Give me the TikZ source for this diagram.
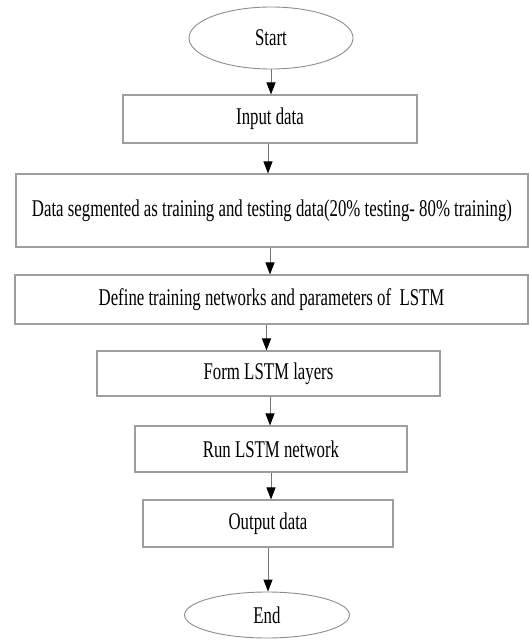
\documentclass[tikz,border=0pt]{standalone}
\usepackage{fontspec}
\setmainfont{Liberation Serif}[FakeStretch=0.7]
\usetikzlibrary{arrows.meta,shapes.geometric}

\tikzset{
  stepbox/.style={draw=black!38, line width=1.1pt, rectangle, inner sep=0pt,
    font=\fontsize{24}{28}\selectfont},
  terminal/.style={draw=black!45, line width=0.9pt, ellipse, inner sep=0pt,
    font=\fontsize{24}{28}\selectfont},
  flow/.style={draw=black!55, line width=0.9pt,
    -{Triangle[width=9pt,length=12pt,fill=black,color=black]}}
}

\begin{document}
\begin{tikzpicture}[x=1pt,y=-1pt]
  \useasboundingbox (0,0) rectangle (529,640);

  \node[terminal, minimum width=164pt, minimum height=62pt] (start) at (271,38) {Start};
  \node[stepbox, minimum width=294pt, minimum height=48pt] (input) at (270,119) {Input data};
  \node[stepbox, minimum width=512pt, minimum height=73pt] (split) at (272,210.5)
    {\raisebox{-7pt}{Data segmented as training and testing data(20\% testing- 80\% training)}};
  \node[stepbox, minimum width=513pt, minimum height=49pt] (define) at (271.5,299.5)
    {\raisebox{-4pt}{Define training networks and parameters of\ \ LSTM}};
  \node[stepbox, minimum width=343pt, minimum height=45pt] (form) at (268.5,373.5) {Form LSTM layers};
  \node[stepbox, minimum width=272pt, minimum height=46pt] (run) at (271,449) {Run LSTM network};
  \node[stepbox, minimum width=250pt, minimum height=47pt] (output) at (268,523.5) {Output data};
  \node[terminal, minimum width=165pt, minimum height=46pt] (end) at (267,615) {End};

  \draw[flow] (start.south) -- (start.south |- input.north);
  \draw[flow] ([xshift=-2pt]input.south) -- ([xshift=-2pt]input.south |- split.north);
  \draw[flow] ([xshift=-2pt]split.south) -- ([xshift=-2pt]split.south |- define.north);
  \draw[flow] ([xshift=-5pt]define.south) -- ([xshift=-5pt]define.south |- form.north);
  \draw[flow] ([xshift=1.5pt]form.south) -- ([xshift=1.5pt]form.south |- run.north);
  \draw[flow] (run.south) -- (run.south |- output.north);
  \draw[flow] (output.south) -- (output.south |- end.north);
\end{tikzpicture}
\end{document}
